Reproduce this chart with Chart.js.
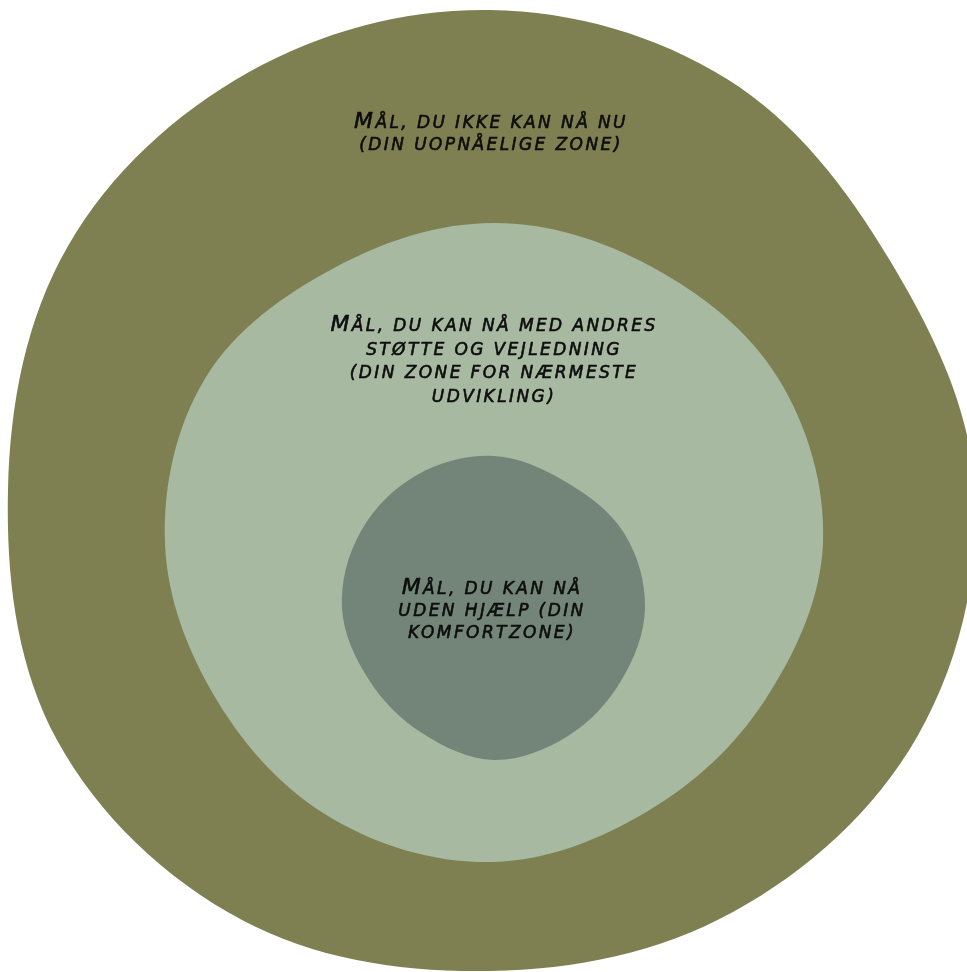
<!DOCTYPE html>
<html>
<head>
<meta charset="utf-8">
<script src="https://cdn.jsdelivr.net/npm/chart.js@4.4.1/dist/chart.umd.min.js"></script>
<style>
  html, body { margin: 0; padding: 0; background: #ffffff; }
  #wrap { position: relative; width: 967px; height: 972px; }
</style>
</head>
<body>
<div id="wrap"><canvas id="chart"></canvas></div>
<script>
// ---- Data: outlines of the three zones (x, y in picture units, y downward) ----
const outerX = [490, 727, 889, 975, 917, 733, 490, 242, 57, 8, 68, 249];
const outerY = [10, 79, 259, 490, 737, 912, 971, 920, 740, 490, 246, 72];

const middleX = [493, 652, 778, 823, 765, 648, 493, 333, 218, 165, 206, 334];
const middleY = [223, 267, 378, 543, 700, 811, 862, 819, 702, 543, 377, 268];

const innerX = [494, 566, 624, 645, 621, 568, 494, 422, 369, 342, 361, 417];
const innerY = [456, 482, 533, 608, 681, 736, 760, 733, 680, 608, 531, 475];

// ---- Text labels ----
const outerLabel = ["MÅL, DU IKKE KAN NÅ NU", "(DIN UOPNÅELIGE ZONE)"];
const middleLabel = ["MÅL, DU KAN NÅ MED ANDRES", "STØTTE OG VEJLEDNING", "(DIN ZONE FOR NÆRMESTE", "UDVIKLING)"];
const innerLabel = ["MÅL, DU KAN NÅ", "UDEN HJÆLP (DIN", "KOMFORTZONE)"];

// ---- Styles / positions (kept separate from data) ----
const zoneColors = { outer: '#7e8052', middle: '#a8b9a1', inner: '#738578' };
const labelAnchors = [
  { lines: outerLabel,  x: 491, y: 128, lh: 22 },
  { lines: middleLabel, x: 494, y: 331, lh: 23.7 },
  { lines: innerLabel,  x: 492, y: 594, lh: 22 }
];
const FONT_FAMILY = "'DejaVu Sans', 'Liberation Sans', sans-serif";
const SMALL_SIZE = 17, BIG_SIZE = 22, LETTER_SPACING = 2.4;

// Wrap the outline so every original point gets its true neighbours (smooth closure).
function closedLoop(xs, ys) {
  const pts = xs.map((x, i) => ({ x: x, y: ys[i] }));
  const n = pts.length;
  return [pts[n - 2], pts[n - 1], ...pts, pts[0], pts[1]];
}

function drawText(ctx, text, x, y) {
  ctx.fillText(text, x, y);
  ctx.strokeText(text, x, y);
}

const labelPlugin = {
  id: 'zoneLabels',
  afterDatasetsDraw(chart) {
    const ctx = chart.ctx;
    const xs = chart.scales.x, ys = chart.scales.y;
    ctx.save();
    ctx.fillStyle = '#0d0d0d';
    ctx.strokeStyle = '#0d0d0d';
    ctx.lineWidth = 0.6;
    ctx.lineJoin = 'round';
    ctx.textBaseline = 'alphabetic';
    ctx.textAlign = 'left';
    try { ctx.letterSpacing = LETTER_SPACING + 'px'; } catch (e) {}
    labelAnchors.forEach(block => {
      const cx = xs.getPixelForValue(block.x);
      block.lines.forEach((line, j) => {
        const y = ys.getPixelForValue(block.y + j * block.lh);
        if (j === 0) {
          const first = line.charAt(0), rest = line.slice(1);
          ctx.font = 'italic ' + BIG_SIZE + 'px ' + FONT_FAMILY;
          const w1 = ctx.measureText(first).width;
          ctx.font = 'italic ' + SMALL_SIZE + 'px ' + FONT_FAMILY;
          const w2 = ctx.measureText(rest).width;
          const x0 = cx - (w1 + w2) / 2;
          ctx.font = 'italic ' + BIG_SIZE + 'px ' + FONT_FAMILY;
          drawText(ctx, first, x0, y);
          ctx.font = 'italic ' + SMALL_SIZE + 'px ' + FONT_FAMILY;
          drawText(ctx, rest, x0 + w1, y);
        } else {
          ctx.font = 'italic ' + SMALL_SIZE + 'px ' + FONT_FAMILY;
          const w = ctx.measureText(line).width;
          drawText(ctx, line, cx - w / 2, y);
        }
      });
    });
    ctx.restore();
  }
};

function zoneDataset(label, xs, ys, color, order) {
  return {
    label: label,
    data: closedLoop(xs, ys),
    showLine: true,
    fill: 'shape',
    backgroundColor: color,
    borderColor: color,
    borderWidth: 0,
    pointRadius: 0,
    pointHoverRadius: 0,
    tension: 0.35,
    order: order
  };
}

new Chart(document.getElementById('chart'), {
  type: 'scatter',
  data: {
    datasets: [
      zoneDataset('Uopnåelige zone', outerX, outerY, zoneColors.outer, 3),
      zoneDataset('Zone for nærmeste udvikling', middleX, middleY, zoneColors.middle, 2),
      zoneDataset('Komfortzone', innerX, innerY, zoneColors.inner, 1)
    ]
  },
  options: {
    responsive: true,
    maintainAspectRatio: false,
    animation: false,
    layout: { padding: 0 },
    elements: { line: { capBezierPoints: false } },
    scales: {
      x: { type: 'linear', min: 0, max: 967, display: false },
      y: { type: 'linear', min: 0, max: 972, reverse: true, display: false }
    },
    plugins: {
      legend: { display: false },
      tooltip: { enabled: false }
    }
  },
  plugins: [labelPlugin]
});
</script>
</body>
</html>
